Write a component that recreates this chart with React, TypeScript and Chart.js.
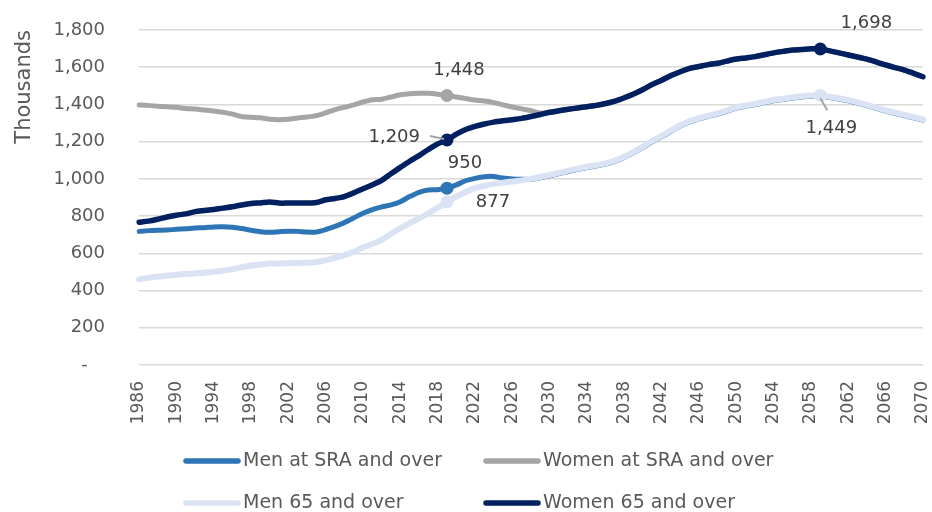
import React, { useEffect, useRef } from "react";
import { Chart, registerables } from "chart.js";

Chart.register(...registerables);

const years = [
  "1986","1987","1988","1989","1990","1991","1992","1993","1994","1995",
  "1996","1997","1998","1999","2000","2001","2002","2003","2004","2005",
  "2006","2007","2008","2009","2010","2011","2012","2013","2014","2015",
  "2016","2017","2018","2019","2020","2021","2022","2023","2024","2025",
  "2026","2027","2028","2029","2030","2031","2032","2033","2034","2035",
  "2036","2037","2038","2039","2040","2041","2042","2043","2044","2045",
  "2046","2047","2048","2049","2050","2051","2052","2053","2054","2055",
  "2056","2057","2058","2059","2060","2061","2062","2063","2064","2065",
  "2066","2067","2068","2069","2070",
];

const tickYears = [
  "1986","1990","1994","1998","2002","2006","2010","2014","2018","2022",
  "2026","2030","2034","2038","2042","2046","2050","2054","2058","2062",
  "2066","2070",
];

const menSRA = [
  718,722,724,725,729,732,736,738,742,743,
  740,733,724,716,713,716,719,718,714,715,
  728,745,765,790,815,835,850,860,877,905,
  928,940,942,950,968,990,1003,1012,1013,1005,
  1000,998,997,1006,1017,1028,1040,1051,1061,1070,
  1079,1094,1115,1141,1169,1201,1226,1256,1284,1306,
  1322,1336,1348,1364,1381,1390,1399,1410,1420,1427,
  1434,1440,1444,1445,1437,1429,1420,1407,1394,1379,
  1364,1352,1340,1328,1316,
];

const womenSRA = [
  1397,1395,1390,1387,1385,1378,1375,1370,1365,1358,
  1348,1335,1331,1328,1320,1318,1320,1327,1332,1340,
  1355,1372,1385,1398,1413,1425,1428,1440,1452,1458,
  1460,1460,1455,1448,1440,1432,1424,1418,1410,1398,
  1386,1376,1367,1354,1358,1366,1374,1381,1388,1395,
  1405,1418,1436,1456,1480,1508,1530,1555,1576,1594,
  1604,1614,1621,1633,1644,1650,1657,1667,1677,1685,
  1692,1695,1699,1698,1688,1677,1666,1655,1643,1628,
  1612,1598,1585,1567,1549,
];

const men65 = [
  460,468,475,480,485,489,492,496,501,507,
  514,525,535,540,545,546,547,548,549,553,
  563,576,590,608,632,650,672,705,735,762,
  788,815,845,877,905,930,950,963,973,980,
  986,992,1000,1010,1021,1032,1044,1055,1065,1074,
  1083,1098,1119,1145,1173,1205,1230,1260,1288,1310,
  1326,1340,1352,1368,1385,1394,1403,1414,1424,1431,
  1438,1444,1448,1449,1441,1433,1424,1411,1398,1383,
  1368,1356,1344,1332,1320,
];

const women65 = [
  767,773,783,795,805,812,824,830,836,843,
  850,860,868,871,876,870,870,870,870,873,
  888,895,905,925,947,968,992,1028,1062,1095,
  1125,1158,1188,1209,1240,1265,1282,1295,1305,1312,
  1318,1325,1335,1346,1358,1366,1374,1381,1388,1395,
  1405,1418,1436,1456,1480,1508,1530,1555,1576,1594,
  1604,1614,1621,1633,1644,1650,1657,1667,1677,1685,
  1692,1695,1699,1698,1688,1677,1666,1655,1643,1628,
  1612,1598,1585,1567,1549,
];

const seriesLabels = [
  "Men at SRA and over",
  "Women at SRA and over",
  "Men 65 and over",
  "Women 65 and over",
];

const markerYears = [["2019"], ["2019"], ["2019", "2059"], ["2019", "2059"]];

// callouts: which dataset/year, with label placement offsets (style only)
const callouts = [
  { ds: 1, year: "2019", dx: 12, dy: -25, align: "center", leader: null },
  { ds: 3, year: "2019", dx: -27, dy: -3, align: "right", leader: [-17, -4, -3, -1] },
  { ds: 0, year: "2019", dx: 18, dy: -25, align: "center", leader: null },
  { ds: 2, year: "2019", dx: 46, dy: 1, align: "center", leader: null },
  { ds: 3, year: "2059", dx: 46, dy: -26, align: "center", leader: null },
  { ds: 2, year: "2059", dx: 11, dy: 33, align: "center", leader: [0, 3, 7, 15] },
];

const FONT = '"DejaVu Sans", "Open Sans", sans-serif';
const TEXT = "#595959";

const calloutPlugin = {
  id: "callouts",
  afterDatasetsDraw(chart: any) {
    const ctx = chart.ctx;
    ctx.save();
    ctx.font = `18px ${FONT}`;
    ctx.fillStyle = "#404040";
    ctx.textBaseline = "middle";
    callouts.forEach((c) => {
      const idx = years.indexOf(c.year);
      const meta = chart.getDatasetMeta(c.ds);
      const pt = meta.data[idx];
      if (!pt) return;
      const v = chart.data.datasets[c.ds].data[idx] as number;
      if (c.leader) {
        ctx.strokeStyle = "#a6a6a6";
        ctx.lineWidth = 2;
        ctx.beginPath();
        ctx.moveTo(pt.x + c.leader[0], pt.y + c.leader[1]);
        ctx.lineTo(pt.x + c.leader[2], pt.y + c.leader[3]);
        ctx.stroke();
      }
      ctx.textAlign = c.align as CanvasTextAlign;
      ctx.fillText(v.toLocaleString("en-US"), pt.x + c.dx, pt.y + c.dy);
    });
    ctx.restore();
  },
};

const legendPlugin = {
  id: "gridLegend",
  afterDraw(chart: any) {
    const ctx = chart.ctx;
    const cols = [183, 483];
    const rows = [461, 503];
    ctx.save();
    chart.data.datasets.forEach((ds: any, i: number) => {
      const x = cols[i % 2];
      const y = rows[Math.floor(i / 2)];
      ctx.strokeStyle = ds.borderColor;
      ctx.lineWidth = 5.5;
      ctx.lineCap = "round";
      ctx.beginPath();
      ctx.moveTo(x + 3, y);
      ctx.lineTo(x + 55, y);
      ctx.stroke();
      ctx.fillStyle = TEXT;
      ctx.font = `19px ${FONT}`;
      ctx.textAlign = "left";
      ctx.textBaseline = "middle";
      ctx.fillText(ds.label, x + 60, y);
    });
    ctx.restore();
  },
};

export default function App() {
  const ref = useRef<HTMLCanvasElement>(null);

  useEffect(() => {
    document.body.style.margin = "0";
    if (!ref.current) return;
    const colors = ["#2e75b6", "#a5a5a5", "#dae3f3", "#002060"];
    const widths = [5, 5, 6, 5.5];
    const orders = [4, 3, 2, 1];
    const values = [menSRA, womenSRA, men65, women65];
    const chart = new Chart(ref.current, {
      type: "line",
      data: {
        labels: years,
        datasets: values.map((d, i) => ({
          label: seriesLabels[i],
          data: d,
          borderColor: colors[i],
          backgroundColor: colors[i],
          borderWidth: widths[i],
          order: orders[i],
          tension: 0.25,
          borderCapStyle: "round" as const,
          borderJoinStyle: "round" as const,
          pointRadius: (c: any) => (markerYears[i].includes(years[c.dataIndex]) ? 6.5 : 0),
          pointBorderWidth: 0,
          pointBackgroundColor: colors[i],
          pointHoverRadius: 0,
        })),
      },
      options: {
        animation: false,
        responsive: false,
        events: [],
        layout: { padding: { top: 30, right: 9, left: 0, bottom: 0 } },
        plugins: {
          legend: { display: false },
          tooltip: { enabled: false },
        },
        scales: {
          x: {
            type: "category",
            offset: false,
            grid: { display: false, drawTicks: false },
            border: { display: false },
            ticks: {
              autoSkip: false,
              maxRotation: 90,
              minRotation: 90,
              padding: 16,
              color: TEXT,
              font: { family: FONT, size: 17 },
              callback: (_v: any, idx: number) =>
                tickYears.includes(years[idx]) ? years[idx] : null,
            },
            afterFit: (s: any) => {
              s.height = 147;
              s.paddingLeft = 0;
              s.paddingRight = 0;
            },
          },
          y: {
            min: 0,
            max: 1800,
            grid: { color: "#d9d9d9", lineWidth: 1.5, drawTicks: false },
            border: { display: false },
            ticks: {
              stepSize: 200,
              padding: 34,
              color: TEXT,
              font: { family: FONT, size: 18 },
              callback: (v: any) => (Number(v) === 0 ? "-   " : Number(v).toLocaleString("en-US")),
            },
            title: {
              display: true,
              text: "Thousands",
              align: "end",
              color: TEXT,
              font: { family: FONT, size: 21, weight: "normal" },
              padding: { top: 12, bottom: 0 },
            },
            afterFit: (s: any) => {
              s.width = 139;
              s.paddingTop = 0;
              s.paddingBottom = 0;
            },
          },
        },
      },
      plugins: [calloutPlugin, legendPlugin],
    } as any);
    return () => chart.destroy();
  }, []);

  return (
    <div style={{ position: "absolute", left: 0, top: 0, width: 932, height: 512 }}>
      <canvas ref={ref} width={932} height={512} style={{ width: 932, height: 512 }} />
    </div>
  );
}
